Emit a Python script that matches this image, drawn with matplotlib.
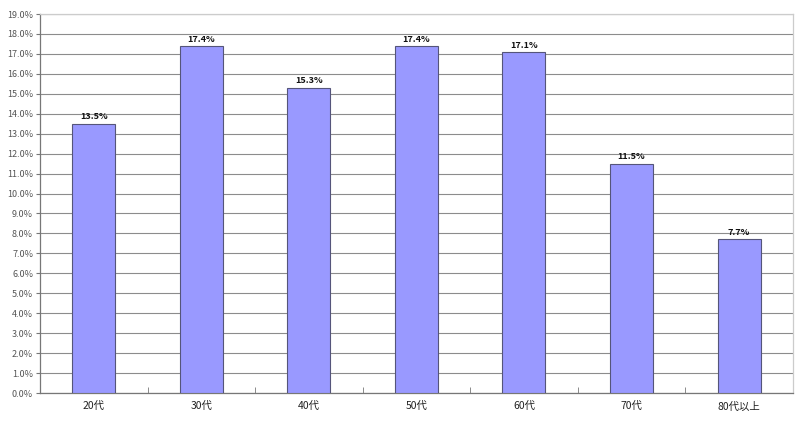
import matplotlib
matplotlib.use("Agg")
import matplotlib.pyplot as plt
from matplotlib.ticker import FuncFormatter, MultipleLocator

plt.rcParams['font.family'] = ['Noto Sans CJK JP', 'DejaVu Sans']

categories = ["20代", "30代", "40代", "50代", "60代", "70代", "80代以上"]
values = [13.5, 17.4, 15.3, 17.4, 17.1, 11.5, 7.7]

fig = plt.figure(figsize=(8, 4.21), dpi=100)
ax = fig.add_axes([0.05, 0.0665, 0.941, 0.9002])

x = list(range(len(categories)))
bars = ax.bar(x, values, width=0.4, color="#9999FF", edgecolor="#55557a", linewidth=0.8, zorder=3)
for xi, v in zip(x, values):
    ax.text(xi, v + 0.12, f"{v:.1f}%", ha="center", va="bottom", fontsize=6.5,
            color="#111111", fontweight="bold", zorder=4)

ax.set_xlim(-0.5, len(categories) - 0.5)
ax.set_ylim(0, 19)
ax.yaxis.set_major_locator(MultipleLocator(1))
ax.yaxis.set_major_formatter(FuncFormatter(lambda v, p: f"{v:.1f}%"))
ax.grid(axis="y", color="#8c8c8c", linewidth=0.8, zorder=0)
ax.set_axisbelow(True)

ax.set_xticks(x)
ax.set_xticklabels(categories)
ax.set_xticks([i + 0.5 for i in x[:-1]], minor=True)
ax.tick_params(axis="x", which="major", length=0, pad=6, labelsize=7.5, labelcolor="#222222")
ax.tick_params(axis="x", which="minor", length=4, direction="in", color="#777777")
ax.tick_params(axis="y", length=3, direction="out", labelsize=6.5, labelcolor="#555555", color="#777777", pad=2)

for s in ["top", "right"]:
    ax.spines[s].set_color("#cccccc")
    ax.spines[s].set_linewidth(0.9)
for s in ["left", "bottom"]:
    ax.spines[s].set_color("#777777")
    ax.spines[s].set_linewidth(0.9)

fig.savefig("out.png", dpi=100)
